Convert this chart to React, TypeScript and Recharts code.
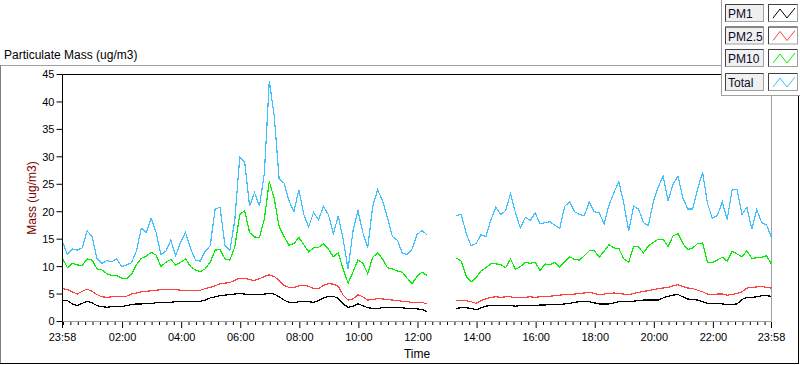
import { LineChart, Line, XAxis, YAxis, ReferenceLine, Label } from "recharts";

// sample every 10 minutes, starting 23:58
const pm1 = [
  3.8, 3.8, 3.2, 2.9, 3.3, 3.7, 3.4, 2.9, 2.7, 2.6,
  2.7, 2.7, 2.7, 2.9, 3.1, 3.2, 3.2, 3.3, 3.3, 3.4,
  3.5, 3.5, 3.5, 3.6, 3.6, 3.6, 3.6, 3.6, 3.7, 3.9,
  4.3, 4.5, 4.7, 4.8, 4.9, 5.0, 5.1, 5.0, 4.9, 4.9,
  4.9, 5.0, 5.1, 5.0, 4.5, 3.9, 3.5, 3.4, 3.6, 3.7,
  3.6, 3.5, 3.8, 4.3, 4.6, 4.6, 4.2, 3.2, 2.6, 2.8,
  3.2, 2.9, 2.5, 2.4, 2.4, 2.5, 2.5, 2.5, 2.5, 2.5,
  2.4, 2.4, 2.3, 2.2, 1.8, null, null, null, null, null,
  2.4, 2.5, 2.5, 2.4, 2.1, 2.5, 2.8, 2.9, 2.9, 2.9,
  2.9, 2.9, 2.8, 2.9, 2.9, 2.9, 2.9, 3.0, 3.0, 3.1,
  3.1, 3.1, 3.2, 3.3, 3.5, 3.6, 3.6, 3.6, 3.4, 3.2,
  3.2, 3.2, 3.4, 3.6, 3.6, 3.6, 3.7, 3.8, 3.9, 3.9,
  3.9, 3.9, 4.3, 4.6, 4.8, 4.9, 4.5, 4.1, 4.0, 3.9,
  3.6, 3.3, 3.3, 3.3, 3.2, 3.1, 3.1, 3.2, 4.0, 4.4,
  4.4, 4.5, 4.7, 4.7, 4.6,
];

const pm25 = [
  6.0, 5.8, 5.4, 5.0, 5.5, 5.9, 5.5, 4.9, 4.5, 4.4,
  4.5, 4.5, 4.5, 4.6, 5.0, 5.2, 5.4, 5.5, 5.6, 5.7,
  5.8, 5.8, 5.8, 5.8, 5.7, 5.6, 5.7, 5.6, 5.7, 6.0,
  6.2, 6.5, 6.9, 7.0, 7.1, 7.5, 7.9, 7.9, 7.6, 7.5,
  7.8, 8.2, 8.5, 8.2, 7.5, 6.6, 6.2, 6.2, 6.5, 6.6,
  6.4, 6.0, 6.0, 6.6, 6.9, 6.8, 6.4, 4.8, 3.9, 4.1,
  4.9, 4.5, 3.9, 4.0, 4.2, 4.1, 4.0, 3.9, 3.8, 3.7,
  3.6, 3.5, 3.5, 3.5, 3.2, null, null, null, null, null,
  3.8, 3.8, 3.8, 3.6, 3.3, 3.8, 4.1, 4.4, 4.5, 4.4,
  4.5, 4.5, 4.3, 4.3, 4.4, 4.5, 4.4, 4.5, 4.5, 4.6,
  4.7, 4.8, 4.9, 4.9, 5.0, 5.1, 5.2, 5.3, 5.1, 4.9,
  5.0, 5.1, 5.2, 5.1, 5.0, 4.9, 5.1, 5.3, 5.5, 5.6,
  5.8, 6.0, 6.1, 6.2, 6.5, 6.7, 6.4, 6.1, 6.0, 5.7,
  5.4, 5.0, 4.9, 5.0, 5.0, 4.8, 4.9, 5.1, 5.4, 6.1,
  6.2, 6.3, 6.4, 6.2, 6.1,
];

const pm10 = [
  11.5, 9.8, 10.6, 10.3, 10.2, 11.4, 11.2, 9.6, 9.4, 8.7,
  8.4, 8.4, 7.9, 7.8, 8.6, 10.3, 11.5, 11.9, 12.6, 12.1,
  10.0, 10.8, 11.3, 10.3, 10.8, 11.4, 10.0, 9.4, 9.1, 9.6,
  10.8, 13.0, 13.1, 11.4, 11.2, 13.6, 19.5, 20.2, 16.2, 15.4,
  15.3, 18.7, 25.5, 22.4, 17.3, 15.5, 13.9, 14.2, 15.3, 14.0,
  12.7, 13.4, 13.5, 14.2, 13.2, 11.8, 12.5, 9.6, 7.0, 9.0,
  11.2, 10.6, 8.7, 11.7, 12.5, 11.4, 9.8, 9.6, 9.2, 9.0,
  7.9, 6.9, 8.2, 9.0, 8.4, null, null, null, null, null,
  11.6, 11.0, 8.2, 7.2, 8.0, 9.2, 9.8, 10.5, 10.5, 10.4,
  9.8, 11.4, 9.5, 10.0, 10.8, 10.6, 10.8, 9.3, 10.5, 10.3,
  10.8, 9.9, 10.9, 11.8, 11.3, 11.2, 12.0, 12.9, 12.9, 11.7,
  12.8, 14.0, 13.4, 13.3, 11.4, 10.8, 13.7, 13.6, 12.5, 13.8,
  14.4, 15.0, 15.0, 13.6, 15.6, 16.0, 14.2, 13.1, 13.4, 14.2,
  14.3, 10.8, 10.7, 11.2, 11.7, 11.0, 12.8, 12.3, 11.8, 12.9,
  11.5, 11.6, 11.7, 12.0, 10.4,
];

const total = [
  14.5, 12.2, 13.2, 13.0, 13.4, 16.5, 15.5, 11.5, 10.6, 11.1,
  10.9, 11.4, 10.0, 10.3, 10.7, 12.8, 17.0, 16.2, 18.8, 16.3,
  12.2, 12.8, 14.8, 12.0, 14.5, 16.2, 13.3, 11.2, 11.0, 12.8,
  13.8, 20.5, 20.8, 13.8, 13.0, 18.5, 30.0, 29.0, 21.0, 23.5,
  21.0, 27.0, 43.8, 37.5, 26.0, 25.2, 22.0, 20.0, 24.0, 19.5,
  17.2, 19.9, 18.5, 21.0, 19.5, 16.0, 19.2, 15.0, 9.5, 16.5,
  20.2, 16.2, 13.5, 21.0, 24.0, 22.0, 18.9, 15.5, 14.8, 12.5,
  12.2, 13.2, 15.8, 16.6, 15.8, null, null, null, null, null,
  19.3, 19.5, 16.0, 13.8, 14.2, 15.8, 15.5, 18.5, 20.8, 19.5,
  20.2, 23.3, 19.8, 17.0, 19.0, 18.4, 19.8, 17.8, 18.0, 18.2,
  17.5, 17.0, 21.0, 21.8, 20.0, 19.5, 19.3, 21.8, 20.0, 19.8,
  17.8, 21.2, 23.5, 25.5, 21.5, 16.5, 21.0, 20.5, 18.0, 17.5,
  21.8, 24.5, 26.5, 22.0, 25.0, 26.5, 22.5, 20.5, 20.5, 24.2,
  27.2, 21.5, 18.8, 19.3, 21.8, 18.6, 24.0, 24.0, 19.5, 20.8,
  16.8, 20.4, 18.0, 17.6, 15.3,
];

// minutes after 23:58
const labelTicks = [0, 122, 242, 362, 482, 602, 722, 842, 962, 1082, 1202, 1322, 1440];
const minorTicks = Array.from({ length: 96 }, (_, k) => 2 + k * 15);
const yTicks = [0, 5, 10, 15, 20, 25, 30, 35, 40, 45];

const series = [
  { key: "pm1", name: "PM1", color: "#000000" },
  { key: "pm25", name: "PM2.5", color: "#ff4040" },
  { key: "pm10", name: "PM10", color: "#00f000" },
  { key: "total", name: "Total", color: "#40c0ff" },
];

const data = pm1.map((v, i) => ({
  t: i * 10,
  pm1: v,
  pm25: pm25[i],
  pm10: pm10[i],
  total: total[i],
}));

const allTicks = Array.from(new Set([...labelTicks, ...minorTicks])).sort((a, b) => a - b);

function clock(m: number) {
  const c = (23 * 60 + 58 + m) % 1440;
  const h = Math.floor(c / 60);
  return `${String(h).padStart(2, "0")}:${String(c % 60).padStart(2, "0")}`;
}

function TimeTick(props: any) {
  const { x, y, payload } = props;
  const major = labelTicks.includes(payload.value);
  return (
    <g>
      <line x1={x} x2={x} y1={y + 0.5} y2={y + (major ? 6.5 : 3.5)} stroke="#000" />
      {major && (
        <text x={x} y={y + 19.5} textAnchor="middle" fontSize={11} fill="#000">
          {clock(payload.value)}
        </text>
      )}
    </g>
  );
}

function Zig({ x, y, color }: { x: number; y: number; color: string }) {
  return (
    <polyline
      points={`${x + 3},${y + 13} ${x + 10},${y + 4} ${x + 17},${y + 13} ${x + 25},${y + 3}`}
      fill="none"
      stroke={color}
      strokeWidth={1}
    />
  );
}

const rowTops = [4, 26.5, 49, 73];

export default function App() {
  return (
    <div
      style={{
        position: "absolute",
        left: 0,
        top: 0,
        width: 800,
        height: 365,
        background: "#fff",
        fontFamily: '"Liberation Sans", Arial, sans-serif',
      }}
    >
      <LineChart
        width={800}
        height={365}
        data={data}
        margin={{ top: 74.5, right: 28.5, bottom: 3.5, left: 12.5 }}
      >
        <XAxis
          dataKey="t"
          type="number"
          domain={[0, 1440]}
          ticks={allTicks}
          interval={0}
          height={40}
          tickSize={0}
          tickMargin={0}
          tickLine={false}
          axisLine={{ stroke: "#a0a0a0" }}
          tick={<TimeTick />}
        >
          <Label value="Time" position="insideBottom" offset={3.5} fontSize={12} fill="#000" />
        </XAxis>
        <YAxis
          type="number"
          domain={[0, 45]}
          ticks={yTicks}
          width={50}
          tickSize={6}
          axisLine={{ stroke: "#000" }}
          tickLine={{ stroke: "#000" }}
          tick={{ fontSize: 11, fill: "#000" }}
        >
          <Label
            content={({ viewBox }: any) => {
              const cx = viewBox.x + 19.5;
              const cy = viewBox.y + viewBox.height / 2;
              return (
                <text
                  x={cx}
                  y={cy}
                  transform={`rotate(-90 ${cx} ${cy})`}
                  textAnchor="middle"
                  dominantBaseline="central"
                  fontSize={12}
                  fill="#800000"
                >
                  Mass (ug/m3)
                </text>
              );
            }}
          />
        </YAxis>
        <ReferenceLine y={45} stroke="#000" />
        <ReferenceLine x={1440} stroke="#a0a0a0" />
        {series.map((s) => (
          <Line
            key={s.key}
            type="linear"
            dataKey={s.key}
            name={s.name}
            stroke={s.color}
            strokeWidth={1.2}
            dot={false}
            connectNulls={false}
            isAnimationActive={false}
            style={{ shapeRendering: "crispEdges" }}
          />
        ))}
      </LineChart>

      <svg
        width={800}
        height={365}
        style={{ position: "absolute", left: 0, top: 0, pointerEvents: "none" }}
      >
        <text x={4} y={59} fontSize={12} fill="#000">
          Particulate Mass (ug/m3)
        </text>
        <line x1={0} x2={722} y1={65.5} y2={65.5} stroke="#a0a0a0" />
        <line x1={0.5} x2={0.5} y1={65} y2={364} stroke="#808080" />
        <line x1={0} x2={799} y1={363.5} y2={363.5} stroke="#000" />
        <line x1={798.5} x2={798.5} y1={95} y2={364} stroke="#000" />

        <rect x={721.5} y={-1} width={80} height={96.5} fill="#fff" stroke="#a0a0a0" />
        {series.map((s, i) => {
          const y = rowTops[i];
          return (
            <g key={s.key}>
              <rect x={725.5} y={y + 0.5} width={38} height={17} fill="#f0f0f0" stroke="#a0a0a0" />
              <polyline
                points={`${725.5},${y + 17.5} ${725.5},${y + 0.5} ${763.5},${y + 0.5}`}
                fill="none"
                stroke="#404040"
              />
              <text x={728} y={y + 14} fontSize={12} fill="#0a0a28">
                {s.name}
              </text>
              <rect x={768.5} y={y + 0.5} width={29} height={17} fill="#fff" stroke="#a0a0a0" />
              <polyline
                points={`${768.5},${y + 17.5} ${768.5},${y + 0.5} ${797.5},${y + 0.5}`}
                fill="none"
                stroke="#404040"
              />
              <Zig x={770} y={y + 1} color={s.color} />
            </g>
          );
        })}
      </svg>
    </div>
  );
}
